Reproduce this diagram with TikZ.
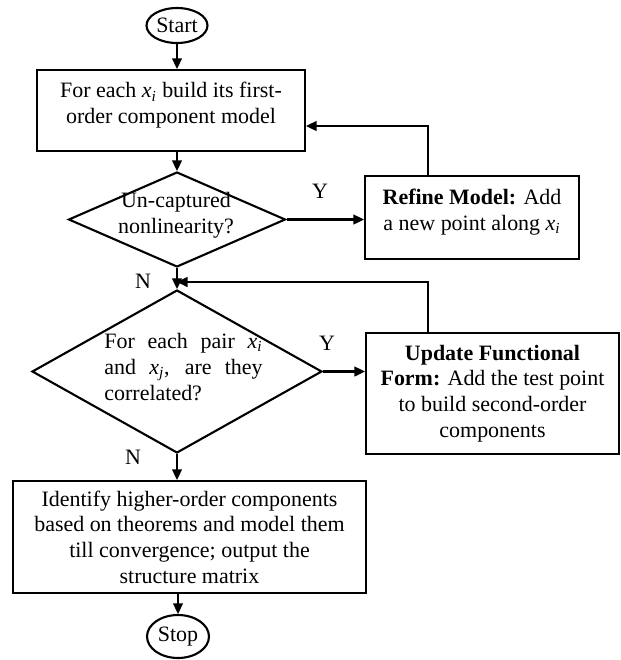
\documentclass[tikz,border=0pt]{standalone}
\usepackage{fontspec}
\setmainfont{Liberation Serif}
\usepackage{amsmath}
\usetikzlibrary{shapes.geometric, arrows.meta}
\newcommand{\xv}[1]{\textit{x}$_{\textit{#1}}$}
\newcommand{\upbox}[1]{\raisebox{2.8pt}[\height][\depth]{\begin{tabular}{@{}c@{}}#1\end{tabular}}}

\begin{document}
\begin{tikzpicture}[x=0.02cm, y=-0.02cm, line width=1.2pt,
		every node/.style={font=\fontsize{12.5}{14.6}\selectfont},
		proc/.style={draw, rectangle, align=center, inner sep=2pt},
		decision/.style={draw, diamond, inner sep=0pt},
		term/.style={draw, ellipse, inner sep=0pt},
		>={Triangle[length=6pt, width=5.5pt]}]
		\useasboundingbox (0, 0) rectangle (621, 660);
		%%%%%%%%%%%%%
		\node[term, minimum width=1.22cm, minimum height=0.7cm] (start) at (177, 25.5) {Start};
		\node[proc, minimum width=5.36cm, minimum height=1.62cm] (init) at (171, 110.5) {\upbox{For each \xv{i} build its first-\\order component model}};
		\node[decision, minimum width=4.34cm, minimum height=1.9cm] (nonlin) at (177, 219.5) {};
		\node[align=center] (nonlintxt) at (176, 215.5) {Un-captured\\nonlinearity?};
		\node[proc, minimum width=4.28cm, minimum height=1.66cm] (refine) at (472, 217.5) {\upbox{\textbf{Refine Model:} Add\\a new point along \xv{i}}};
		\node[decision, minimum width=5.8cm, minimum height=3.26cm] (pair) at (177, 371.5) {};
		\node[align=justify, text width=90pt, inner sep=0pt] (pairtxt) at (183.5, 367) {For each pair \xv{i}\linebreak and \xv{j}, are they\linebreak correlated?};
		\node[proc, minimum width=5.06cm, minimum height=2.42cm] (update) at (492.5, 393.5) {\textbf{Update Functional}\\\textbf{Form:} Add the test point\\to build second-order\\components};
		\node[proc, minimum width=7.06cm, minimum height=2.24cm] (higher) at (189.5, 537) {Identify higher-order components\\based on theorems and model them\\till convergence; output the\\structure matrix};
		\node[term, minimum width=1.24cm, minimum height=0.86cm] (stop) at (178, 636.5) {Stop};
		%%%%%%%%%%%%%
		\node (y1) at (320, 191) {Y};
		\node (n1) at (143, 281) {N};
		\node (y2) at (327, 343) {Y};
		\node (n2) at (133, 457) {N};
		\coordinate (back1) at (428, 126);
		\coordinate (back2) at (428, 282);
		%%%%%%%%%%%%%
		\draw[->] (start) -- (start |- init.north);
		\draw[->] (nonlin.north |- init.south) -- (nonlin);
		\draw[->] (nonlin) -- (nonlin -| refine.west);
		\draw[->] (refine.north -| back1) -- (back1) -- (back1 -| init.east);
		\draw[->] (nonlin) -- (pair);
		\draw[->] (update.north -| back2) -- (back2) -- (back2 -| pair.north);
		\draw[->] (pair) -- (pair -| update.west);
		\draw[->] (pair.south) -- (pair.south |- higher.north);
		\draw[->] (stop.north |- higher.south) -- (stop);
\end{tikzpicture}
\end{document}
